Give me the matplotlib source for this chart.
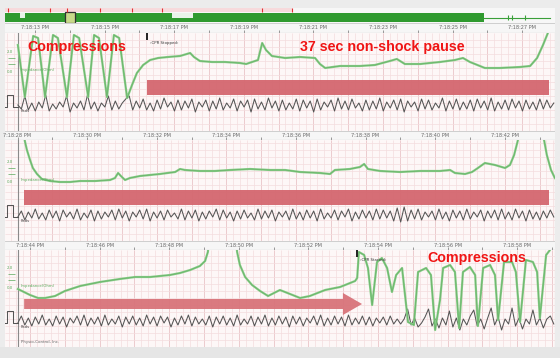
import matplotlib.pyplot as plt
from matplotlib.patches import Rectangle, FancyArrow
import numpy as np

# ---- values (times in seconds after 7:18:00 PM) ----
strip_start = [12.14, 27.64, 43.28]
ecg_start = [12.51, 28.01, 43.65]
ecg_step = 0.1
label_secs = [list(range(13, 28, 2)), list(range(28, 43, 2)), list(range(44, 59, 2))]

# impedance trace: (time, level); levels above the strip run off the top
imp1 = [(12.51, 86), (12.71, 34), (12.95, 95), (13.09, 93), (13.29, 34), (13.52, 96), (13.66, 93),
        (13.92, 34), (14.12, 96), (14.27, 93), (14.53, 34), (14.70, 96), (14.84, 93), (15.07, 34),
        (15.27, 96), (15.42, 93), (15.65, 33), (15.79, 46), (15.93, 58), (16.11, 66), (16.31, 71),
        (16.54, 73), (16.82, 74), (17.17, 75), (17.46, 78), (17.57, 74), (17.74, 70), (18.09, 69),
        (18.46, 69), (18.89, 68), (19.07, 67), (19.41, 71), (19.53, 88), (19.64, 81), (19.81, 75),
        (20.19, 73), (20.62, 74), (21.05, 73), (21.19, 67), (21.34, 63), (21.77, 65), (22.34, 65),
        (22.77, 66), (23.20, 70), (23.40, 72), (23.63, 67), (24.07, 67), (24.64, 69), (25.07, 71),
        (25.30, 73), (25.50, 69), (25.93, 63), (26.36, 63), (26.94, 64), (27.23, 65), (27.43, 73),
        (27.60, 86), (27.74, 98), (27.85, 130)]
imp2 = [(28.12, 130), (28.21, 100), (28.27, 91), (28.36, 81), (28.44, 73), (28.56, 67), (28.70, 62),
        (28.93, 60), (29.22, 59), (29.51, 59), (29.80, 60), (30.23, 60), (30.66, 61), (30.80, 63),
        (30.89, 68), (30.97, 65), (31.09, 61), (31.23, 63), (31.52, 65), (32.09, 67), (32.53, 69),
        (32.67, 72), (32.81, 71), (33.24, 70), (33.67, 70), (34.11, 71), (34.68, 72), (35.26, 71),
        (35.69, 71), (36.12, 69), (36.69, 68), (36.98, 67), (37.12, 71), (37.55, 72), (37.84, 74),
        (37.96, 77), (38.07, 72), (38.42, 70), (38.99, 69), (39.57, 70), (40.14, 70), (40.43, 71),
        (40.57, 68), (40.86, 67), (41.06, 69), (41.23, 73), (41.43, 78), (41.72, 76), (42.01, 73),
        (42.15, 76), (42.27, 86), (42.38, 101), (42.50, 130), (43.00, 130), (43.13, 101),
        (43.21, 86), (43.33, 71), (43.44, 63)]
imp3 = [(43.65, 58), (44.00, 52), (44.23, 49), (44.43, 49), (44.72, 51), (45.00, 56), (45.44, 61),
        (46.01, 65), (46.58, 68), (47.02, 70), (47.45, 70), (48.02, 72), (48.31, 74), (48.60, 77),
        (48.88, 81), (49.03, 86), (49.11, 95), (49.20, 130), (49.86, 130), (49.95, 95), (50.03, 82),
        (50.18, 70), (50.38, 62), (50.61, 56), (50.84, 51), (51.18, 57), (51.47, 53), (51.76, 49),
        (52.04, 51), (52.48, 57), (52.91, 60), (53.34, 66), (53.40, 69), (53.45, 95), (53.60, 92),
        (53.71, 79), (53.83, 42), (53.97, 85), (54.11, 89), (54.26, 79), (54.40, 55), (54.52, 72),
        (54.69, 79), (54.86, 25), (55.03, 22), (55.15, 75), (55.38, 79), (55.52, 72), (55.64, 17),
        (55.78, 47), (55.87, 79), (56.07, 82), (56.21, 75), (56.33, 19), (56.44, 75), (56.64, 80),
        (56.79, 72), (56.87, 21), (57.02, 79), (57.22, 82), (57.36, 72), (57.45, 27), (57.62, 85),
        (57.85, 85), (57.96, 75), (58.08, 25), (58.25, 87), (58.45, 85), (58.57, 75), (58.65, 29),
        (58.83, 92), (58.94, 97), (59.03, 130)]

# ECG deviations, one sample every 0.1 s
ecg1 = [0, -4, 9, -5, 2, -6, 3, -3, 10, -6, 1, -4, 3, -2, 9, -7, 2, -3, 4, -5,
        10, -4, 3, -6, 2, -2, 9, -5, 4, -4, 2, 6, 9, -5,
        4, -3, 6, -5, 2, -6, 5, -4, 7, -2, 3, -6, 5, -5, 4, -3, 6, -7, 3, -2,
        5, -6, 4, -4, 7, -5, 2, -3, 6, -6, 4, -2, 5, -7, 6, -4, 3, -5, 7, -3,
        4, -6, 5, -5, 2, -4, 6, -6, 5, -3, 4, -7, 6, -5, 3, -2, 5, -6, 7, -4,
        4, -5, 6, -3, 2, -6, 5, -5, 4, -4, 7, -6, 3, -3, 5, -5, 6, -7, 4, -2,
        3, -6, 6, -4, 5, -5, 2, -3, 7, -6, 4, -4, 6, -5, 3, -4, 5, -6, 6, -3,
        4, -5, 7, -6, 3, -4, 5, -5, 6, -3, 4, -6, 5, -4, 3, -5, 6, -4, 5, -3, 2]
ecg2 = [-2, 4, -5, 3, -3, 6, -4, 2, -5, 5, -3, 4, -6, 5, -2, 3, -4, 6, -5, 2,
        -3, 5, -6, 4, -4, 3, -2, 5, -5, 6, -3, 4, -6, 3, -2, 5, -4, 6, -6, 3,
        -3, 4, -5, 5, -2, 2, -4, 6, -5, 4, -3, 5, -6, 3, -4, 4, -2, 6, -5, 5,
        -3, 3, -6, 4, -4, 5, -3, 2, -5, 6, -4, 4, -3, 5, -6, 3, -2, 4, -5, 6,
        -4, 3, -5, 5, -3, 4, -6, 6, -4, 2, -3, 5, -5, 4, -2, 6, -6, 3, -4, 5,
        -3, 4, -5, 6, -4, 5, -3, 4, -6, 7, -7, 8, -6, 5, -4, 6, -5, 3, -2, 4,
        -5, 6, -4, 3, -6, 5, -3, 4, -5, 6, -4, 3, -2, 5, -6, 4, -3, 5, -5, 6,
        -4, 3, -5, 6, -3, 4, -6, 5, -4, 3, -5, 4, -3, 5, -2]
ecg3 = [-2, 5, -4, 3, -5, 4, -3, 6, -4, 2, -5, 5, -3, 4, -6, 3, -2, 5, -4, 6,
        -5, 3, -3, 4, -5, 6, -4, 2, -3, 5, -6, 4, -3, 5, -4, 3, -5, 6, -3, 4,
        -5, 5, -2, 4, -6, 3, -4, 5, -3, 6, -5, 4, -3, 2, -4, 5, -6, 4, -3, 5,
        -4, 3, -5, 6, -4, 2, -3, 5, -5, 4, -3, 6, -5, 3, -4, 5, -3, 4, -6, 5,
        -3, 4, -5, 3, -2, 5, -4, 6, -5, 3, -4, 5, -3, 4, -5, 6, -4, 3, -3, 5,
        -4, 4, -5, 3, -2, 4, -4, 5, -3, 2, -3, 2, 12, -4, 3, -6, -2, 4, 12, -5,
        2, -7, 3, -4, 10, -6, 3, -9, 2, -4, 5, 11, -5, 2, -8, 3, 13, -4, 4, -9,
        2, -3, 13, -5, 3, -8, 2, -3, 11, -4, 3, -7, 2, 5, -3]
imp_traces = [imp1, imp2, imp3]
ecg_traces = [ecg1, ecg2, ecg3]

# calibration pulse at the left of each ECG lane (offset from strip start, deviation)
cal_pulse = [(0.00, -2), (0.06, -2), (0.06, 10), (0.23, 10), (0.23, -2), (0.37, -2)]

# annotations
pause_bars = [(16.22, 27.77), (28.19, 43.27)]
arrow_span = (43.83, 53.54)
cpr_events = [(0, 16.22, '‹CPR Stopped›'), (2, 53.40, '‹CPR Started›')]

# overview bar along the top (fractions of the case)
overview_green = (0.0, 0.87)
overview_marks = [0.005, 0.082, 0.113, 0.173, 0.231, 0.285, 0.467, 0.522]

# ---- layout (pixels) ----
W, H = 560, 358
PX_PER_S = 34.8
X0, X1 = 5, 555
strip_tops = [33, 140, 250]
strip_bots = [131, 241, 347]
row_tops = [23, 131, 241]
ECG_BASE = 26
span = (X1 - X0) / PX_PER_S

fig = plt.figure(figsize=(5.6, 3.58), dpi=100)
fig.patch.set_facecolor('#ececec')


def box(x0, y0, x1, y1):
    ax = fig.add_axes([x0 / W, 1 - y1 / H, (x1 - x0) / W, (y1 - y0) / H])
    ax.set_xticks([])
    ax.set_yticks([])
    for s in ax.spines.values():
        s.set_visible(False)
    return ax


# top overview bar
ov = box(X0, 8, X1, 23)
ov.set_facecolor('#f7f7f7')
ov.set_xlim(0, 1)
ov.set_ylim(0, 1)
ov.add_patch(Rectangle((0, 0.72), 0.522, 0.28, color='#f7dadc', lw=0))
ov.add_patch(Rectangle((overview_green[0], 0.05), overview_green[1], 0.62, color='#2f9a2f', lw=0))
ov.add_patch(Rectangle((0.304, 0.36), 0.038, 0.31, color='#e9f4e9', lw=0))
ov.add_patch(Rectangle((0.027, 0.36), 0.009, 0.31, color='#e9f4e9', lw=0))
ov.plot([overview_green[1], 0.99], [0.36, 0.36], color='#3a9f3a', lw=0.8)
ov.vlines([0.915, 0.922, 0.945], 0.2, 0.55, color='#3a9f3a', lw=0.8)
ov.add_patch(Rectangle((0.109, 0.0), 0.018, 0.72, facecolor='#c8d98a', edgecolor='#333333', lw=0.9))
ov.vlines(overview_marks, 0.74, 0.98, color='#e03030', lw=0.8)

for k in range(3):
    t0 = strip_start[k]
    hgt = strip_bots[k] - strip_tops[k]

    # time label row
    rw = box(X0, row_tops[k], X1, strip_tops[k])
    rw.set_facecolor('#f6f6f6')
    rw.set_xlim(t0, t0 + span)
    rw.set_ylim(0, 1)
    rw.axhline(0.02, color='#9a9a9a', lw=0.8)
    rw.axhline(0.98, color='#c8c8c8', lw=0.6)
    rw.vlines(np.arange(np.ceil(t0), t0 + span, 1.0), 0, 0.3, color='#888888', lw=0.6)
    for s in label_secs[k]:
        rw.text(s, 0.55, f'7:18:{s:02d} PM', ha='center', va='center', fontsize=3.6, color='#666666')

    # strip with pink grid paper
    ax = box(X0, strip_tops[k], X1, strip_bots[k])
    ax.set_facecolor('#fdf7f7')
    ax.set_xlim(t0, t0 + span)
    ax.set_ylim(0, hgt)
    ax.vlines(np.arange(np.ceil(t0 * 5) / 5, t0 + span, 0.2), 0, hgt, color='#f4dcde', lw=0.5, zorder=0)
    ax.vlines(np.arange(np.ceil(t0), t0 + span, 1.0), 0, hgt, color='#ebc8cb', lw=0.6, zorder=0)
    ax.hlines(np.arange(0, hgt, 7), t0, t0 + span, color='#f4dcde', lw=0.5, zorder=0)
    ax.axvline(t0 + 13 / PX_PER_S, color='#8a8a8a', lw=0.8, zorder=1)
    ax.axvline(t0 + span - 0.01, color='#b0b0b0', lw=0.8, zorder=1)

    # ECG
    vals = np.array(ecg_traces[k])
    et = ecg_start[k] + ecg_step * np.arange(len(vals))
    ax.plot(et, ECG_BASE + vals, color='#555555', lw=0.75, zorder=2)
    ct, cv = zip(*cal_pulse)
    ax.plot(t0 + np.array(ct), ECG_BASE + np.array(cv), color='#555555', lw=0.75, zorder=2)

    # impedance
    it, iv = zip(*imp_traces[k])
    ax.plot(it, iv, color='#88cc88', lw=1.6, solid_joinstyle='round', zorder=3)
    ax.plot(it, iv, color='#4f9f4f', lw=0.5, alpha=0.6, zorder=3)

    # small lane labels
    ax.text(t0 + 0.45, 61, 'Impedance(Ohm)', fontsize=2.8, color='#5aa85a', va='center')
    ax.text(t0 + 0.05, 79, '2.0', fontsize=2.8, color='#5aa85a', va='center')
    ax.text(t0 + 0.05, 59, '0.0', fontsize=2.8, color='#5aa85a', va='center')
    ax.hlines([73, 67], t0 + 0.1, t0 + 0.3, color='#5aa85a', lw=0.5)
    ax.text(t0 + 0.45, 20, 'Pads', fontsize=2.8, color='#444444', va='center')
    if k == 2:
        ax.text(t0 + 0.45, 5, 'Physio-Control, Inc.', fontsize=2.8, color='#666666', va='center')

    # red overlays
    if k < 2:
        s, e = pause_bars[k]
        ax.broken_barh([(s, e - s)], (36, 15), color='#d4676f', alpha=0.95, lw=0, zorder=5)
    else:
        s, e = arrow_span
        ax.add_patch(FancyArrow(s, 43, e - s, 0, width=10, head_width=22, head_length=0.55,
                                length_includes_head=True, color='#d8737a', alpha=0.95, lw=0,
                                zorder=5))

    for kk, t, label in cpr_events:
        if kk == k:
            ax.vlines(t, hgt - 7, hgt, color='#222222', lw=1.4, zorder=4)
            ax.text(t + 0.08, hgt - 10, label, fontsize=2.8, color='#333333', va='center')

# bottom status row
bt = box(0, 347, W, H)
bt.set_facecolor('#e6e6e6')

red = dict(color='#f01414', fontsize=10.3, fontweight='bold', family='Liberation Sans', va='center')
fig.text(27 / W, 1 - 47 / H, 'Compressions', **red)
fig.text(300 / W, 1 - 47 / H, '37 sec non-shock pause', **red)
fig.text(427 / W, 1 - 258 / H, 'Compressions', **red)

fig.savefig('out.png', dpi=100, facecolor=fig.get_facecolor())
